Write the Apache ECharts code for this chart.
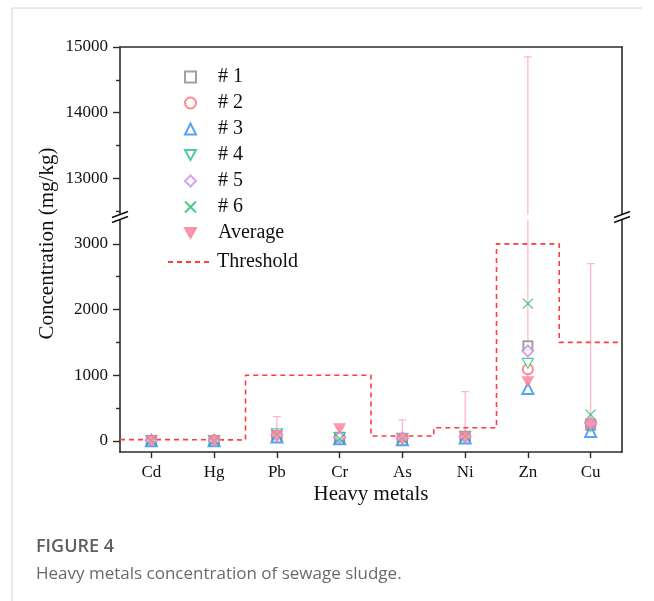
<!DOCTYPE html>
<html>
<head>
<meta charset="utf-8">
<script src="https://cdn.jsdelivr.net/npm/echarts@6/dist/echarts.min.js"></script>
<style>
html,body{margin:0;padding:0;background:#fff;}
#chart{width:654px;height:601px;}
</style>
</head>
<body>
<div id="chart"></div>
<script>
// ---------------- data ----------------
const categories = ['Cd', 'Hg', 'Pb', 'Cr', 'As', 'Ni', 'Zn', 'Cu'];
const s1 = [5, 6, 80, 55, 30, 60, 1450, 240];
const s2 = [4, 5, 70, 45, 25, 55, 1090, 260];
const s3 = [3, 4, 60, 35, 20, 45, 800, 145];
const s4 = [6, 7, 110, 50, 40, 70, 1180, 220];
const s5 = [8, 9, 90, 60, 45, 65, 1370, 270];
const s6 = [7, 8, 100, 30, 35, 75, 2090, 400];
const average = [5, 6, 80, 185, 30, 60, 900, 250];
const errPlus = [2, 2, 290, 5, 290, 690, 13950, 2450];
const threshold = [20, 15, 1000, 1000, 75, 200, 3000, 1500];
const lowerTicks = [0, 1000, 2000, 3000];
const lowerMinor = [500, 1500, 2500];
const upperTicks = [13000, 14000, 15000];
const upperMinor = [12500, 13500, 14500];
const lowerRange = [-170, 3370];
const upperRange = [12450, 15000];

// ---------------- layout ----------------
const K = 0.0657;            // px per unit
const LEFT = 120, WIDTH = 502, TOP = 47, GAP = 5;
const upperH = (upperRange[1] - upperRange[0]) * K;
const lowerTop = TOP + upperH + GAP;
const lowerH = (lowerRange[1] - lowerRange[0]) * K;
const AX = '#2b2b2b';
const SERIF = 'Liberation Serif';
const DOWN_TRI = 'path://M0,0L10,0L5,9Z';

const chart = echarts.init(document.getElementById('chart'), null, {renderer: 'canvas'});

const catIdx = categories.map((c, i) => i + 1);
const pts = arr => arr.map((v, i) => [i + 1, v]);
const stepPts = [];
threshold.forEach((t, i) => { stepPts.push([i + 0.5, t]); stepPts.push([i + 1.5, t]); });
const errData = average.map((v, i) => [i + 1, v, v + errPlus[i]]);

function errRender(params, api) {
  const x = api.value(0);
  const p0 = api.coord([x, api.value(1)]);
  const p1 = api.coord([x, api.value(2)]);
  const st = {stroke: '#ffb9c6', lineWidth: 1.3};
  return {
    type: 'group',
    children: [
      {type: 'line', shape: {x1: p0[0], y1: p0[1], x2: p1[0], y2: p1[1]}, style: st},
      {type: 'line', shape: {x1: p1[0] - 4, y1: p1[1], x2: p1[0] + 4, y2: p1[1]}, style: st}
    ]
  };
}

const markerBase = {type: 'scatter', xAxisIndex: 1, yAxisIndex: 0, symbolSize: 10, symbolKeepAspect: true, z: 5};
const legendText = {fontFamily: SERIF, fontSize: 20, color: '#111', lineHeight: 20};

function yAxisSet(gridIndex, range, ticks, minor) {
  return [
    {gridIndex: gridIndex, type: 'value', min: range[0], max: range[1], position: 'left',
      axisLine: {show: true, onZero: false, lineStyle: {color: AX, width: 1.6}},
      axisTick: {show: true, customValues: ticks, length: 7, lineStyle: {color: AX, width: 1.4}},
      axisLabel: {show: false}, splitLine: {show: false}},
    {gridIndex: gridIndex, type: 'value', min: range[0], max: range[1], position: 'left',
      axisLine: {show: false},
      axisTick: {show: true, customValues: minor, length: 4, lineStyle: {color: AX, width: 1.4}},
      axisLabel: {show: false}, splitLine: {show: false}},
    {gridIndex: gridIndex, type: 'value', min: range[0], max: range[1], position: 'right',
      axisLine: {show: true, onZero: false, lineStyle: {color: AX, width: 1.6}},
      axisTick: {show: false}, axisLabel: {show: false}, splitLine: {show: false}}
  ];
}

const option = {
  backgroundColor: '#fff',
  animation: false,
  textStyle: {fontFamily: SERIF, fontSize: 17, color: '#111'},
  grid: [
    {left: LEFT, width: WIDTH, top: TOP, height: upperH},
    {left: LEFT, width: WIDTH, top: lowerTop, height: lowerH}
  ],
  xAxis: [
    {gridIndex: 0, type: 'value', min: 0.5, max: 8.5, position: 'top',
      axisLine: {show: true, lineStyle: {color: AX, width: 1.6}},
      axisTick: {show: false}, axisLabel: {show: false}, splitLine: {show: false}},
    {gridIndex: 1, type: 'value', min: 0.5, max: 8.5, position: 'bottom',
      axisLine: {show: true, onZero: false, lineStyle: {color: AX, width: 1.6}},
      axisTick: {show: true, customValues: catIdx, length: 6, lineStyle: {color: AX, width: 1.4}},
      axisLabel: {show: true, customValues: catIdx, formatter: v => categories[Math.round(v) - 1] || '',
        fontFamily: SERIF, fontSize: 17, color: '#111', margin: 12},
      splitLine: {show: false},
      name: 'Heavy metals', nameLocation: 'middle', nameGap: 32,
      nameTextStyle: {fontFamily: SERIF, fontSize: 21, color: '#111'}}
  ],
  // yAxis 0-2: lower grid, 3-5: upper grid
  yAxis: yAxisSet(1, lowerRange, lowerTicks, lowerMinor).concat(yAxisSet(0, upperRange, upperTicks, upperMinor)),
  legend: [
    {
      data: ['# 1', '# 2', '# 3', '# 4', '# 5', '# 6', 'Average'],
      orient: 'vertical', left: 179, top: 62,
      itemWidth: 11, itemHeight: 11, itemGap: 6,
      textStyle: Object.assign({padding: [0, 0, 0, 17]}, legendText)
    },
    {
      data: [{name: 'Threshold', itemStyle: {opacity: 0}}],
      orient: 'vertical', left: 162, top: 247,
      itemWidth: 44, itemHeight: 11,
      textStyle: legendText
    }
  ],
  series: [
    {type: 'custom', name: 'errUpper', xAxisIndex: 0, yAxisIndex: 3, clip: true, renderItem: errRender, data: errData, z: 2},
    {type: 'custom', name: 'errLower', xAxisIndex: 1, yAxisIndex: 0, clip: true, renderItem: errRender, data: errData, z: 2},
    {type: 'line', name: 'Threshold', xAxisIndex: 1, yAxisIndex: 0, data: stepPts, symbol: 'none', showSymbol: false, z: 3,
      lineStyle: {color: '#ff3b3b', width: 1.6, type: [5, 4]}, itemStyle: {color: '#ff3b3b'}},
    Object.assign({}, markerBase, {name: '# 1', data: pts(s1), symbol: 'emptyRect', symbolSize: 9,
      itemStyle: {color: '#8a8a8a', borderColor: '#8a8a8a', borderWidth: 1.2}}),
    Object.assign({}, markerBase, {name: '# 2', data: pts(s2), symbol: 'emptyCircle',
      itemStyle: {color: '#ff6b6b', borderColor: '#ff6b6b', borderWidth: 1.2}}),
    Object.assign({}, markerBase, {name: '# 3', data: pts(s3), symbol: 'emptyTriangle', symbolSize: 11,
      itemStyle: {color: '#2b8cf0', borderColor: '#2b8cf0', borderWidth: 1.2}}),
    Object.assign({}, markerBase, {name: '# 4', data: pts(s4), symbol: DOWN_TRI, symbolSize: 11,
      itemStyle: {color: '#ffffff', borderColor: '#22bf80', borderWidth: 1.2}}),
    Object.assign({}, markerBase, {name: '# 5', data: pts(s5), symbol: 'emptyDiamond', symbolSize: 11,
      itemStyle: {color: '#c98cf0', borderColor: '#c98cf0', borderWidth: 1.2}}),
    Object.assign({}, markerBase, {name: '# 6', data: pts(s6), symbol: 'path://M0,0L10,10M10,0L0,10', symbolSize: 10,
      itemStyle: {color: '#17bf62', borderColor: '#17bf62', borderWidth: 1.3}}),
    Object.assign({}, markerBase, {name: 'Average', data: pts(average), symbol: DOWN_TRI, symbolSize: 12,
      itemStyle: {color: '#f98399', borderColor: '#f98399', borderWidth: 0.5}})
  ]
};
chart.setOption(option);

// y tick labels, break marks, axis title, caption, frame
const tickTexts = [];
[[0, lowerTicks], [3, upperTicks]].forEach(function (pair) {
  pair[1].forEach(function (v) {
    const y = chart.convertToPixel({yAxisIndex: pair[0]}, v);
    tickTexts.push({type: 'text', x: LEFT - 12, y: y,
      style: {text: String(v), font: '17px "Liberation Serif"', fill: '#111', align: 'right', verticalAlign: 'middle'}});
  });
});
const yBreak = TOP + upperH + GAP / 2;
function slashes(x) {
  const st = {stroke: '#111', lineWidth: 1.6};
  return [
    {type: 'rect', shape: {x: x - 3, y: yBreak - GAP / 2, width: 6, height: GAP}, style: {fill: '#fff'}, z: 100},
    {type: 'line', shape: {x1: x - 8, y1: yBreak - GAP / 2 + 3, x2: x + 8, y2: yBreak - GAP / 2 - 3}, style: st, z: 101},
    {type: 'line', shape: {x1: x - 8, y1: yBreak + GAP / 2 + 3, x2: x + 8, y2: yBreak + GAP / 2 - 3}, style: st, z: 101}
  ];
}
chart.setOption({
  graphic: [].concat(tickTexts, slashes(LEFT), slashes(LEFT + WIDTH), [
    {type: 'text', x: 47, y: (TOP + lowerTop + lowerH) / 2 - 6, rotation: Math.PI / 2,
      style: {text: 'Concentration (mg/kg)', font: '21px "Liberation Serif"', fill: '#111', align: 'center', verticalAlign: 'middle'}},
    {type: 'text', left: 36, top: 538,
      style: {text: 'FIGURE 4', font: '600 18px "Open Sans", sans-serif', fill: '#5f5f5f'}},
    {type: 'text', left: 36, top: 566,
      style: {text: 'Heavy metals concentration of sewage sludge.', font: '17px "Open Sans", sans-serif', fill: '#6a6a6a'}},
    {type: 'line', shape: {x1: 12, y1: 8, x2: 642, y2: 8}, style: {stroke: '#d4d4d4', lineWidth: 1}},
    {type: 'line', shape: {x1: 12, y1: 8, x2: 12, y2: 601}, style: {stroke: '#d4d4d4', lineWidth: 1}}
  ])
});
</script>
</body>
</html>
